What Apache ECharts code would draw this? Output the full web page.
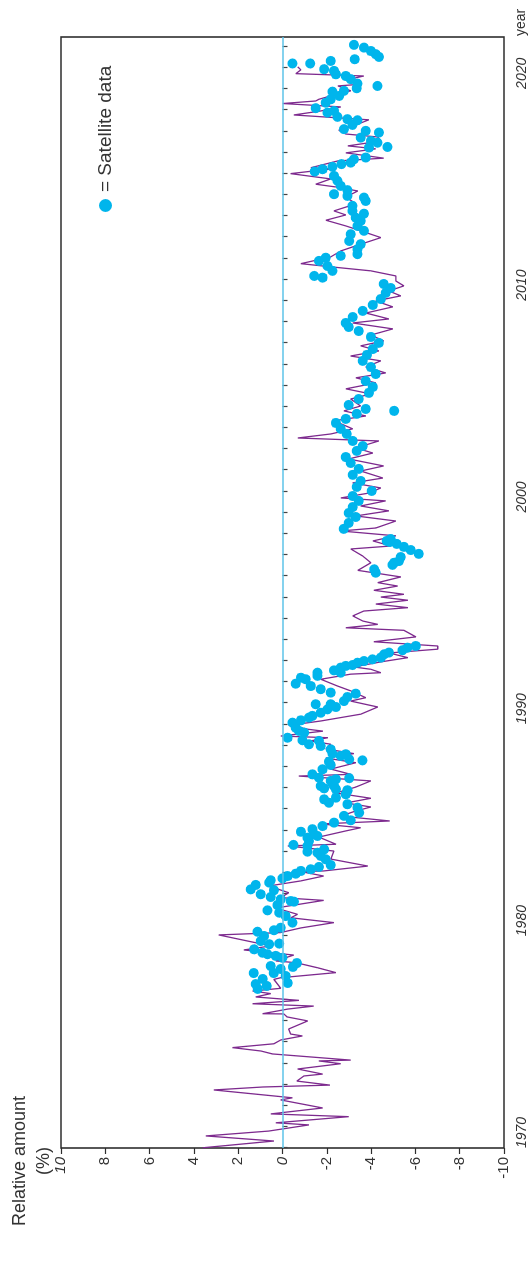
<!DOCTYPE html>
<html>
<head>
<meta charset="utf-8">
<script src="https://cdn.jsdelivr.net/npm/echarts@6/dist/echarts.min.js"></script>
<style>
  html, body { margin: 0; padding: 0; background: #fff; overflow: hidden; width: 531px; height: 1262px; }
  /* The chart is laid out landscape and turned a quarter turn counter-clockwise */
  #chart { position: absolute; left: 0; top: 0; width: 1262px; height: 531px;
           transform-origin: 0 0; transform: translate(0, 1262px) rotate(-90deg); }
</style>
</head>
<body>
<div id="chart"></div>
<script>
// Ground-based record: [year, relative amount %]
const groundRecord = [
  [1970.01,3.61],[1970.33,0.39],[1970.57,3.46],[1970.80,0.62],[1971.09,-1.19],[1971.19,0.30],[1971.48,-2.99],
  [1971.61,0.53],[1971.89,-1.81],[1972.27,0.08],[1972.37,-0.45],[1972.74,3.10],[1972.88,0.89],[1972.97,-2.14],
  [1973.16,-0.65],[1973.40,-0.96],[1973.49,-1.81],[1973.73,-0.68],[1973.98,-2.63],[1974.11,-1.64],[1974.15,-3.08],
  [1974.44,0.45],[1974.58,0.98],[1974.74,2.26],[1974.92,0.39],[1975.10,0.08],[1975.29,-0.90],[1975.38,-0.37],
  [1975.62,-0.28],[1976.00,-1.14],[1976.19,-0.20],[1976.33,-0.06],[1976.34,0.90],[1976.56,-0.24],[1976.70,-1.41],
  [1976.81,1.35],[1976.97,-0.74],[1977.13,1.21],[1977.29,0.53],[1977.41,1.35],[1977.54,0.08],[1977.96,0.39],
  [1978.04,0.08],[1978.28,-2.41],[1978.51,-1.58],[1978.75,-0.60],[1978.83,0.30],[1979.11,-0.51],[1979.35,1.75],
  [1979.54,0.53],[1980.06,2.88],[1980.17,0.08],[1980.39,-0.83],[1980.64,-2.32],[1980.87,-0.37],[1981.03,-0.68],
  [1981.33,0.30],[1981.69,-1.86],[1981.82,0.08],[1982.05,-0.28],[1982.37,0.62],[1982.61,-0.83],[1982.84,-1.86],
  [1983.05,-0.83],[1983.08,-1.86],[1983.31,-3.85],[1983.64,-2.18],[1984.02,-2.32],[1984.26,-0.24],[1984.34,-2.41],
  [1984.68,-1.64],[1984.97,-2.86],[1985.12,-3.53],[1985.30,-1.73],[1985.44,-4.84],[1985.67,-2.63],[1985.91,-3.31],
  [1986.10,-3.99],[1986.29,-2.86],[1986.51,-3.99],[1986.76,-2.41],[1987.04,-3.31],[1987.33,-3.99],[1987.56,-0.74],
  [1987.64,-3.08],[1987.89,-2.18],[1988.19,-3.31],[1988.41,-1.96],[1988.62,-3.22],[1988.84,-1.96],[1989.06,-2.18],
  [1989.22,-1.27],[1989.37,-2.05],[1989.45,0.08],[1989.68,-1.82],[1989.77,-1.14],[1989.97,-0.28],[1990.03,-0.83],
  [1990.16,-1.73],[1990.32,-2.63],[1990.48,-3.53],[1990.82,-4.30],[1991.10,-3.08],[1991.26,-3.76],[1991.58,-3.08],
  [1991.81,-2.48],[1992.13,-1.73],[1992.37,-3.08],[1992.44,-4.44],[1992.60,-3.99],[1992.71,-3.22],[1992.95,-4.44],
  [1993.15,-5.66],[1993.37,-4.81],[1993.55,-7.01],[1993.70,-7.01],[1993.90,-4.12],[1994.13,-6.02],[1994.44,-5.48],
  [1994.56,-2.86],[1994.72,-4.30],[1994.88,-3.62],[1995.12,-3.17],[1995.35,-3.67],[1995.51,-5.66],[1995.68,-4.21],
  [1995.86,-5.66],[1996.01,-4.44],[1996.14,-5.48],[1996.33,-4.12],[1996.53,-5.20],[1996.69,-4.30],[1996.96,-5.34],
  [1997.27,-3.40],[1997.63,-3.99],[1997.95,-3.62],[1998.28,-3.08],[1998.42,-4.89],[1998.66,-4.08],[1998.90,-5.12],
  [1999.13,-2.63],[1999.27,-4.21],[1999.60,-5.12],[1999.84,-3.31],[2000.08,-4.80],[2000.31,-3.53],[2000.55,-4.66],
  [2000.69,-2.63],[2000.92,-3.90],[2001.16,-4.44],[2001.40,-3.17],[2001.63,-4.53],[2001.96,-3.53],[2002.20,-4.57],
  [2002.53,-2.99],[2002.81,-4.08],[2003.05,-3.31],[2003.38,-4.35],[2003.52,-0.69],[2003.71,-2.18],[2003.95,-3.17],
  [2004.33,-2.32],[2004.56,-3.76],[2004.80,-2.77],[2005.03,-3.53],[2005.36,-3.08],[2005.60,-3.99],[2005.84,-2.86],
  [2006.12,-4.21],[2006.36,-3.31],[2006.59,-4.66],[2006.87,-3.76],[2007.16,-4.44],[2007.39,-3.08],[2007.63,-4.35],
  [2007.87,-3.53],[2008.10,-4.57],[2008.38,-3.99],[2008.67,-4.98],[2008.95,-3.17],[2009.14,-4.80],[2009.42,-3.76],
  [2009.71,-4.98],[2009.99,-4.21],[2010.23,-5.34],[2010.46,-4.80],[2010.70,-5.48],[2010.93,-5.12],[2011.17,-5.12],
  [2011.41,-3.99],[2011.60,-2.18],[2011.75,-0.83],[2012.07,-2.18],[2012.35,-2.63],[2012.59,-3.31],[2012.98,-4.44],
  [2013.30,-3.53],[2013.53,-2.86],[2013.80,-1.96],[2014.05,-2.86],[2014.24,-2.32],[2014.57,-3.31],[2014.90,-2.86],
  [2015.18,-3.40],[2015.37,-2.41],[2015.50,-1.50],[2015.75,-2.18],[2016.00,-0.37],[2016.22,-2.18],[2016.28,-1.28],
  [2016.60,-2.50],[2016.73,-4.57],[2016.98,-2.86],[2017.17,-4.21],[2017.31,-2.95],[2017.54,-4.44],[2017.73,-4.30],
  [2017.87,-2.86],[2018.05,-2.54],[2018.30,-3.31],[2018.54,-3.90],[2018.77,-0.51],[2018.96,-1.73],[2019.15,-2.63],
  [2019.31,-0.01],[2019.43,-1.50],[2019.51,-1.64],[2019.67,-2.18],[2019.91,-3.08],[2020.14,-2.50],[2020.22,-3.53],
  [2020.42,-2.86],[2020.61,-3.67],[2020.72,-0.60],[2020.90,-0.83],[2021.04,-0.69]
];

// Satellite record: [year, relative amount %]
const satelliteRecord = [
  [1977.51,1.12],[1977.65,0.71],[1977.74,1.21],[1977.79,-0.24],[1977.98,0.89],[1978.12,-0.15],[1978.26,1.30],
  [1978.26,0.39],[1978.45,0.08],[1978.55,-0.47],[1978.59,0.53],[1978.73,-0.65],[1978.98,0.00],[1979.07,0.30],
  [1979.15,0.68],[1979.22,0.90],[1979.38,1.28],[1979.62,0.60],[1979.65,0.15],[1979.77,0.98],[1980.01,0.83],
  [1980.21,1.13],[1980.28,0.38],[1980.40,0.08],[1980.64,-0.45],[1980.95,-0.15],[1981.11,0.15],[1981.22,0.68],
  [1981.47,0.23],[1981.63,-0.52],[1981.66,-0.37],[1981.74,0.08],[1981.85,0.53],[1981.98,0.98],[1982.17,0.38],
  [1982.21,1.43],[1982.42,1.21],[1982.53,0.60],[1982.64,0.53],[1982.73,0.00],[1982.84,-0.23],[1982.95,-0.60],
  [1983.08,-0.83],[1983.16,-1.28],[1983.27,-1.65],[1983.36,-2.18],[1983.63,-1.95],[1983.79,-1.73],[1983.94,-1.58],
  [1983.99,-1.13],[1984.10,-1.88],[1984.26,-1.13],[1984.31,-0.50],[1984.49,-1.20],[1984.65,-1.13],[1984.73,-1.58],
  [1984.81,-1.43],[1984.93,-0.83],[1985.05,-1.35],[1985.20,-1.81],[1985.36,-2.33],[1985.47,-3.08],[1985.68,-2.78],
  [1985.83,-3.46],[1986.07,-3.39],[1986.23,-2.93],[1986.30,-2.10],[1986.46,-1.88],[1986.54,-2.41],[1986.70,-2.86],
  [1986.86,-2.93],[1986.89,-2.93],[1986.94,-2.41],[1986.98,-1.88],[1987.09,-1.73],[1987.09,-2.33],[1987.20,-2.26],
  [1987.33,-2.18],[1987.41,-2.41],[1987.46,-3.01],[1987.48,-1.65],[1987.64,-1.35],[1987.88,-1.81],[1988.08,-2.18],
  [1988.24,-2.10],[1988.30,-3.61],[1988.35,-3.01],[1988.51,-2.63],[1988.59,-2.86],[1988.62,-2.26],[1988.82,-2.18],
  [1988.98,-1.73],[1989.06,-1.20],[1989.22,-1.65],[1989.25,-0.90],[1989.37,-0.23],[1989.61,-0.98],[1989.69,-0.75],
  [1989.84,-0.60],[1990.08,-0.45],[1990.19,-0.83],[1990.32,-1.20],[1990.40,-1.35],[1990.55,-1.73],[1990.71,-2.03],
  [1990.82,-2.41],[1990.95,-1.50],[1990.95,-2.18],[1991.10,-2.78],[1991.29,-2.93],[1991.45,-3.31],[1991.50,-2.18],
  [1991.66,-1.73],[1991.81,-1.28],[1991.92,-0.60],[1992.13,-1.05],[1992.20,-0.83],[1992.29,-1.58],[1992.44,-1.58],
  [1992.44,-2.63],[1992.55,-2.33],[1992.68,-2.63],[1992.76,-2.86],[1992.80,-3.16],[1992.91,-3.39],[1992.99,-3.68],
  [1993.07,-4.06],[1993.15,-4.44],[1993.31,-4.59],[1993.39,-4.81],[1993.50,-5.42],[1993.62,-5.64],[1993.70,-6.02],
  [1997.16,-4.21],[1997.32,-4.14],[1997.53,-4.97],[1997.63,-5.04],[1997.71,-5.26],[1997.90,-5.34],[1998.05,-6.15],
  [1998.23,-5.79],[1998.38,-5.48],[1998.52,-5.16],[1998.61,-4.84],[1998.66,-4.71],[1998.75,-4.89],[1999.23,-2.77],
  [1999.51,-2.99],[1999.79,-3.31],[1999.98,-2.99],[2000.26,-3.17],[2000.55,-3.44],[2000.78,-3.17],[2001.02,-4.03],
  [2001.21,-3.35],[2001.49,-3.53],[2001.78,-3.17],[2002.06,-3.44],[2002.34,-3.08],[2002.62,-2.86],[2002.91,-3.35],
  [2003.14,-3.62],[2003.38,-3.17],[2003.71,-2.90],[2003.95,-2.63],[2004.23,-2.41],[2004.42,-2.86],[2004.66,-3.35],
  [2004.80,-5.04],[2004.89,-3.76],[2005.08,-2.99],[2005.36,-3.44],[2005.65,-3.90],[2005.93,-4.08],[2006.21,-3.76],
  [2006.54,-4.21],[2006.87,-3.99],[2007.16,-3.62],[2007.44,-3.81],[2007.72,-4.08],[2008.01,-4.35],[2008.29,-3.99],
  [2008.57,-3.44],[2008.76,-2.99],[2008.95,-2.86],[2009.23,-3.17],[2009.52,-3.62],[2009.80,-4.08],[2010.08,-4.44],
  [2010.37,-4.66],[2010.60,-4.89],[2010.79,-4.57],[2011.09,-1.81],[2011.17,-1.43],[2011.41,-2.26],[2011.64,-2.03],
  [2011.88,-1.65],[2012.03,-1.95],[2012.12,-2.63],[2012.20,-3.39],[2012.43,-3.39],[2012.67,-3.53],[2012.82,-3.01],
  [2013.14,-3.08],[2013.30,-3.68],[2013.53,-3.39],[2013.77,-3.53],[2013.92,-3.31],[2014.11,-3.68],[2014.24,-3.16],
  [2014.48,-3.16],[2014.71,-3.76],[2014.87,-3.68],[2014.95,-2.93],[2015.03,-2.33],[2015.22,-2.93],[2015.42,-2.63],
  [2015.66,-2.48],[2015.89,-2.33],[2016.10,-1.46],[2016.21,-1.81],[2016.32,-2.26],[2016.45,-2.66],[2016.52,-3.08],
  [2016.68,-3.23],[2016.76,-3.76],[2017.23,-3.91],[2017.26,-4.74],[2017.46,-4.29],[2017.54,-3.99],[2017.70,-3.53],
  [2017.94,-4.36],[2018.02,-3.76],[2018.10,-2.78],[2018.30,-3.16],[2018.52,-3.39],[2018.57,-2.93],[2018.68,-2.48],
  [2018.88,-2.03],[2018.96,-2.33],[2019.09,-1.50],[2019.35,-1.95],[2019.51,-2.18],[2019.67,-2.56],[2019.87,-2.26],
  [2019.91,-2.78],[2020.03,-3.35],[2020.14,-4.29],[2020.25,-3.39],[2020.46,-3.08],[2020.61,-2.86],[2020.69,-2.41],
  [2020.85,-2.33],[2020.93,-1.88],[2021.20,-0.45],[2021.20,-1.25],[2021.32,-2.18],[2021.40,-3.26],[2021.51,-4.36],
  [2021.64,-4.21],[2021.79,-3.99],[2021.95,-3.68],[2022.08,-3.23]
];

const decadeLabels = [1970, 1980, 1990, 2000, 2010, 2020];
const yearTicks = [];
for (let y = 1970; y <= 2022; y++) yearTicks.push(y);

const FONT = "'Liberation Sans', Arial, Helvetica, sans-serif";
const INK = '#2e2e2e';

const chart = echarts.init(document.getElementById('chart'), null, { renderer: 'canvas', width: 1262, height: 531 });

chart.setOption({
  animation: false,
  backgroundColor: '#ffffff',
  textStyle: { fontFamily: FONT },
  grid: {
    left: 114, right: 37, top: 61, bottom: 27,
    show: true, borderColor: INK, borderWidth: 1.6, backgroundColor: 'transparent'
  },
  xAxis: {
    type: 'value', min: 1970, max: 2022.45, offset: 3,
    axisLine: { show: false },
    splitLine: { show: false },
    axisTick: { show: true, customValues: yearTicks, length: 5, lineStyle: { color: '#444', width: 1.2 } },
    axisLabel: {
      customValues: decadeLabels, fontSize: 14, fontStyle: 'italic', color: '#333',
      align: 'left', margin: 8, fontFamily: FONT, formatter: v => String(v)
    }
  },
  yAxis: {
    type: 'value', min: -10, max: 10, interval: 2,
    axisLine: { show: false },
    splitLine: { show: false },
    axisTick: { show: true, length: 6, lineStyle: { color: INK, width: 1.2 } },
    axisLabel: {
      fontSize: 15, color: '#333', margin: 9, fontFamily: FONT,
      formatter: v => (v === 10 || v === 0) ? '{i|' + v + '}' : String(v),
      rich: { i: { fontStyle: 'italic', fontSize: 15, color: '#333', fontFamily: FONT } }
    }
  },
  legend: {
    data: ['Satellite data'],
    left: 1045, top: 91,
    icon: 'circle', itemWidth: 13, itemHeight: 13, itemGap: 0,
    formatter: '= {name}',
    textStyle: { fontSize: 19, color: '#333', fontFamily: FONT, padding: [0, 0, 0, 2] }
  },
  graphic: [
    {
      type: 'text', left: 36, top: 8,
      style: { text: 'Relative amount\n(%)', font: '18px ' + FONT, fill: '#333',
               textAlign: 'center', lineHeight: 24, width: 130, align: 'center' }
    },
    {
      type: 'text', left: 1226, top: 514,
      style: { text: 'year', font: '14px ' + FONT, fill: '#333' }
    }
  ],
  series: [
    {
      name: 'Ground record', type: 'line', data: groundRecord,
      showSymbol: false, symbol: 'none', z: 2,
      lineStyle: { color: '#7d2a8e', width: 1.3 },
      markLine: {
        silent: true, symbol: 'none', label: { show: false },
        lineStyle: { color: '#5cc3e8', width: 1.6, type: 'solid' },
        data: [{ yAxis: 0 }]
      }
    },
    {
      name: 'Satellite data', type: 'scatter', data: satelliteRecord,
      symbol: 'circle', symbolSize: 10, z: 3,
      itemStyle: { color: '#00b5ec', opacity: 1 }
    }
  ]
});
</script>
</body>
</html>
